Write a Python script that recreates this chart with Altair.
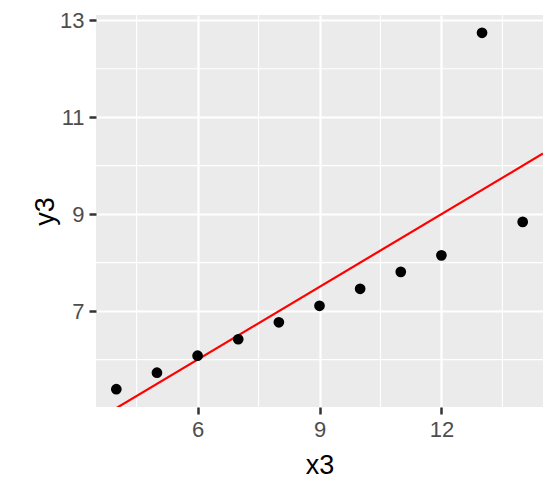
import altair as alt
import pandas as pd

x3 = [10, 8, 13, 9, 11, 14, 6, 4, 12, 7, 5]
y3 = [7.46, 6.77, 12.74, 7.11, 7.81, 8.84, 6.08, 5.39, 8.15, 6.42, 5.73]
intercept = 3.0
slope = 0.5
x_ticks = [6, 9, 12]
y_ticks = [7, 9, 11, 13]
x_minor = [4.5, 7.5, 10.5, 13.5]
y_minor = [6, 8, 10, 12]
x_domain = [3.5, 14.5]
y_domain = [5.0225, 13.1075]

pts = pd.DataFrame({"x3": x3, "y3": y3})
line_df = pd.DataFrame({"x3": x_domain})

xs = alt.Scale(domain=x_domain, nice=False, zero=False)
ys = alt.Scale(domain=y_domain, nice=False, zero=False)

FONT = "Liberation Sans"

base_axes = alt.Chart(pts).mark_point(opacity=0).encode(
    x=alt.X("x3:Q", scale=xs, axis=alt.Axis(values=x_ticks, title="x3", titlePadding=12)),
    y=alt.Y("y3:Q", scale=ys, axis=alt.Axis(values=y_ticks, title="y3", titlePadding=0)),
)

vminor = alt.Chart(pd.DataFrame({"x3": x_minor})).mark_rule(color="white", strokeWidth=1.1).encode(
    x=alt.X("x3:Q", scale=xs))
hminor = alt.Chart(pd.DataFrame({"y3": y_minor})).mark_rule(color="white", strokeWidth=1.1).encode(
    y=alt.Y("y3:Q", scale=ys))

points = alt.Chart(pts).mark_circle(color="black", size=115, opacity=1).encode(
    x=alt.X("x3:Q", scale=xs),
    y=alt.Y("y3:Q", scale=ys),
)

fit = alt.Chart(line_df).transform_calculate(
    y3=f"{intercept} + {slope} * datum.x3"
).mark_line(color="red", strokeWidth=2.2, clip=True).encode(
    x=alt.X("x3:Q", scale=xs),
    y=alt.Y("y3:Q", scale=ys),
)

chart = alt.layer(base_axes, vminor, hminor, fit, points).properties(
    width=447, height=392,
    autosize=alt.AutoSizeParams(type="none"),
    padding={"left": 88, "top": 7, "right": 7, "bottom": 73},
).configure_view(fill="#EBEBEB", stroke=None).configure_axis(
    grid=True, domain=False,
    tickColor="#333333", tickWidth=2.5, tickSize=7,
    labelFontSize=22, labelColor="#4D4D4D", labelFont=FONT, labelPadding=5,
    titleFontSize=27, titleFont=FONT, titleFontWeight="normal", titleColor="black",
    gridColor="white", gridWidth=2.2,
)

chart.save("out.html", embed_options={"renderer": "svg", "actions": False})
